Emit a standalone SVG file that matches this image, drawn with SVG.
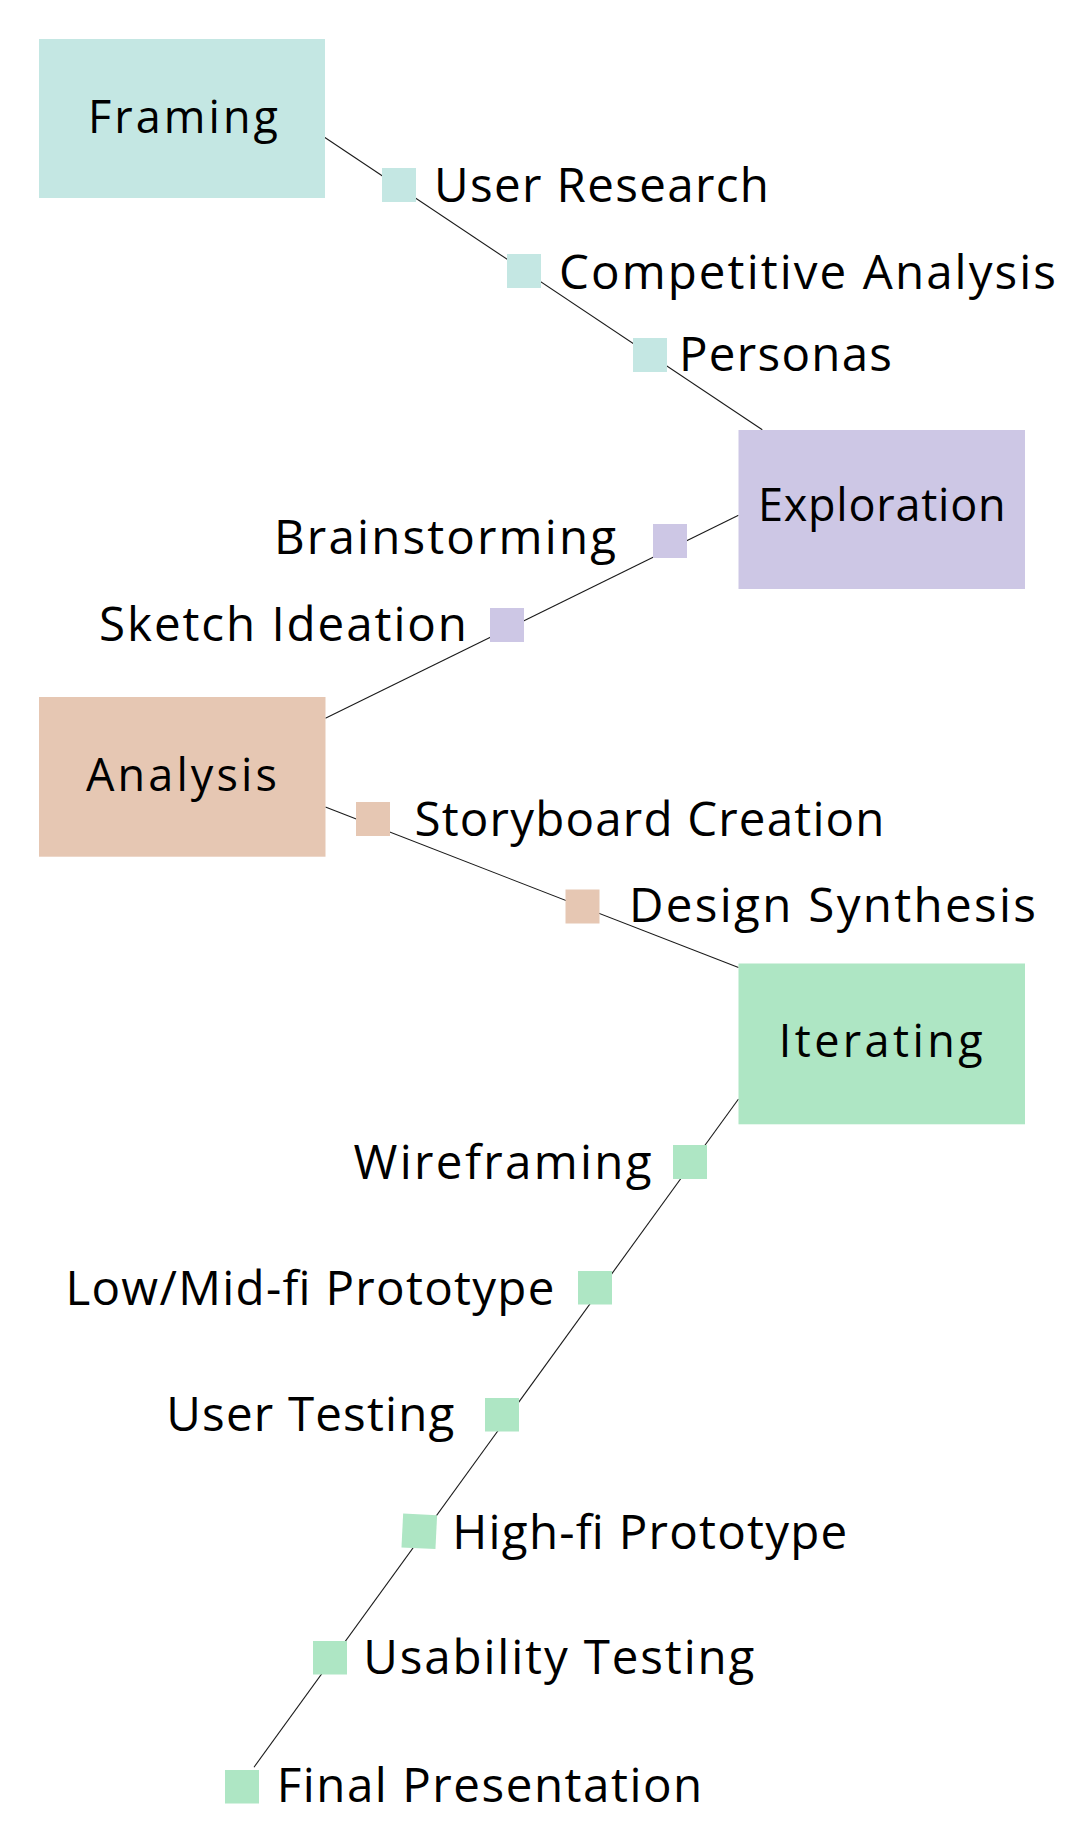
<svg xmlns="http://www.w3.org/2000/svg" width="1080" height="1847" viewBox="0 0 1080 1847">
  <style>
    .node-text { font-family: "Open Sans", "Noto Sans", sans-serif; font-size: 45px; fill: #000; }
    .label { font-family: "Open Sans", "Noto Sans", sans-serif; font-size: 47.5px; fill: #000; }
    .conn { stroke: #1a1a1a; stroke-width: 1.1; fill: none; }
    .teal { fill: #c4e7e3; }
    .lav { fill: #cdc7e5; }
    .peach { fill: #e6c7b3; }
    .green { fill: #aee6c4; }
  </style>
  <rect width="1080" height="1847" fill="#ffffff"/>

  <g id="connectors">
    <line class="conn" x1="324.5" y1="137.3" x2="762.3" y2="429.7"/>
    <line class="conn" x1="738.5" y1="515.3" x2="325.4" y2="718.3"/>
    <line class="conn" x1="325.4" y1="807.1" x2="738.5" y2="967.5"/>
    <line class="conn" x1="738.5" y1="1099" x2="254" y2="1767.3"/>
  </g>

  <g id="node-framing">
    <rect class="teal" x="39" y="39" width="286" height="159"/>
    <text class="node-text" x="88" y="132.5" textLength="190" lengthAdjust="spacing">Framing</text>
  </g>
  <g id="node-exploration">
    <rect class="lav" x="738.5" y="430" width="286.5" height="159"/>
    <text class="node-text" x="758" y="521.3" textLength="247.6" lengthAdjust="spacing">Exploration</text>
  </g>
  <g id="node-analysis">
    <rect class="peach" x="39" y="697" width="286.5" height="159.7"/>
    <text class="node-text" x="86" y="790.6" textLength="191" lengthAdjust="spacing">Analysis</text>
  </g>
  <g id="node-iterating">
    <rect class="green" x="738.5" y="963.5" width="286.5" height="160.8"/>
    <text class="node-text" x="778.7" y="1056.5" textLength="204" lengthAdjust="spacing">Iterating</text>
  </g>

  <g id="step-user-research">
    <rect class="teal" x="382" y="168" width="34" height="34"/>
    <text class="label" x="434" y="202" textLength="335" lengthAdjust="spacing">User Research</text>
  </g>
  <g id="step-competitive-analysis">
    <rect class="teal" x="507" y="254" width="34" height="34"/>
    <text class="label" x="559" y="288.5" textLength="497" lengthAdjust="spacing">Competitive Analysis</text>
  </g>
  <g id="step-personas">
    <rect class="teal" x="633" y="338" width="34" height="34"/>
    <text class="label" x="679" y="371" textLength="213" lengthAdjust="spacing">Personas</text>
  </g>

  <g id="step-brainstorming">
    <rect class="lav" x="653" y="524" width="34" height="34"/>
    <text class="label" x="274" y="553.5" textLength="342" lengthAdjust="spacing">Brainstorming</text>
  </g>
  <g id="step-sketch-ideation">
    <rect class="lav" x="490" y="608" width="34" height="34"/>
    <text class="label" x="99" y="640.5" textLength="368" lengthAdjust="spacing">Sketch Ideation</text>
  </g>

  <g id="step-storyboard-creation">
    <rect class="peach" x="356" y="802" width="34" height="34"/>
    <text class="label" x="414.5" y="835.5" textLength="470" lengthAdjust="spacing">Storyboard Creation</text>
  </g>
  <g id="step-design-synthesis">
    <rect class="peach" x="565.5" y="889.5" width="34" height="34"/>
    <text class="label" x="629" y="922" textLength="407" lengthAdjust="spacing">Design Synthesis</text>
  </g>

  <g id="step-wireframing">
    <rect class="green" x="673" y="1145" width="34" height="34"/>
    <text class="label" x="353.6" y="1178.5" textLength="298" lengthAdjust="spacing">Wireframing</text>
  </g>
  <g id="step-low-mid-fi-prototype">
    <rect class="green" x="578" y="1271" width="34" height="33.5"/>
    <text class="label" x="65.4" y="1304.5" textLength="489" lengthAdjust="spacing">Low/Mid-fi Prototype</text>
  </g>
  <g id="step-user-testing">
    <rect class="green" x="485" y="1398" width="34" height="33.5"/>
    <text class="label" x="166.3" y="1431.3" textLength="288" lengthAdjust="spacing">User Testing</text>
  </g>
  <g id="step-high-fi-prototype">
    <rect class="green" x="402.3" y="1514.3" width="34" height="34" transform="rotate(2.8 419.3 1531.3)"/>
    <text class="label" x="452.3" y="1549" textLength="395" lengthAdjust="spacing">High-fi Prototype</text>
  </g>
  <g id="step-usability-testing">
    <rect class="green" x="313" y="1641" width="34" height="33.5"/>
    <text class="label" x="363.3" y="1673.7" textLength="391" lengthAdjust="spacing">Usability Testing</text>
  </g>
  <g id="step-final-presentation">
    <rect class="green" x="225" y="1770" width="34" height="33.5"/>
    <text class="label" x="276.7" y="1802.3" textLength="425.5" lengthAdjust="spacing">Final Presentation</text>
  </g>
</svg>
